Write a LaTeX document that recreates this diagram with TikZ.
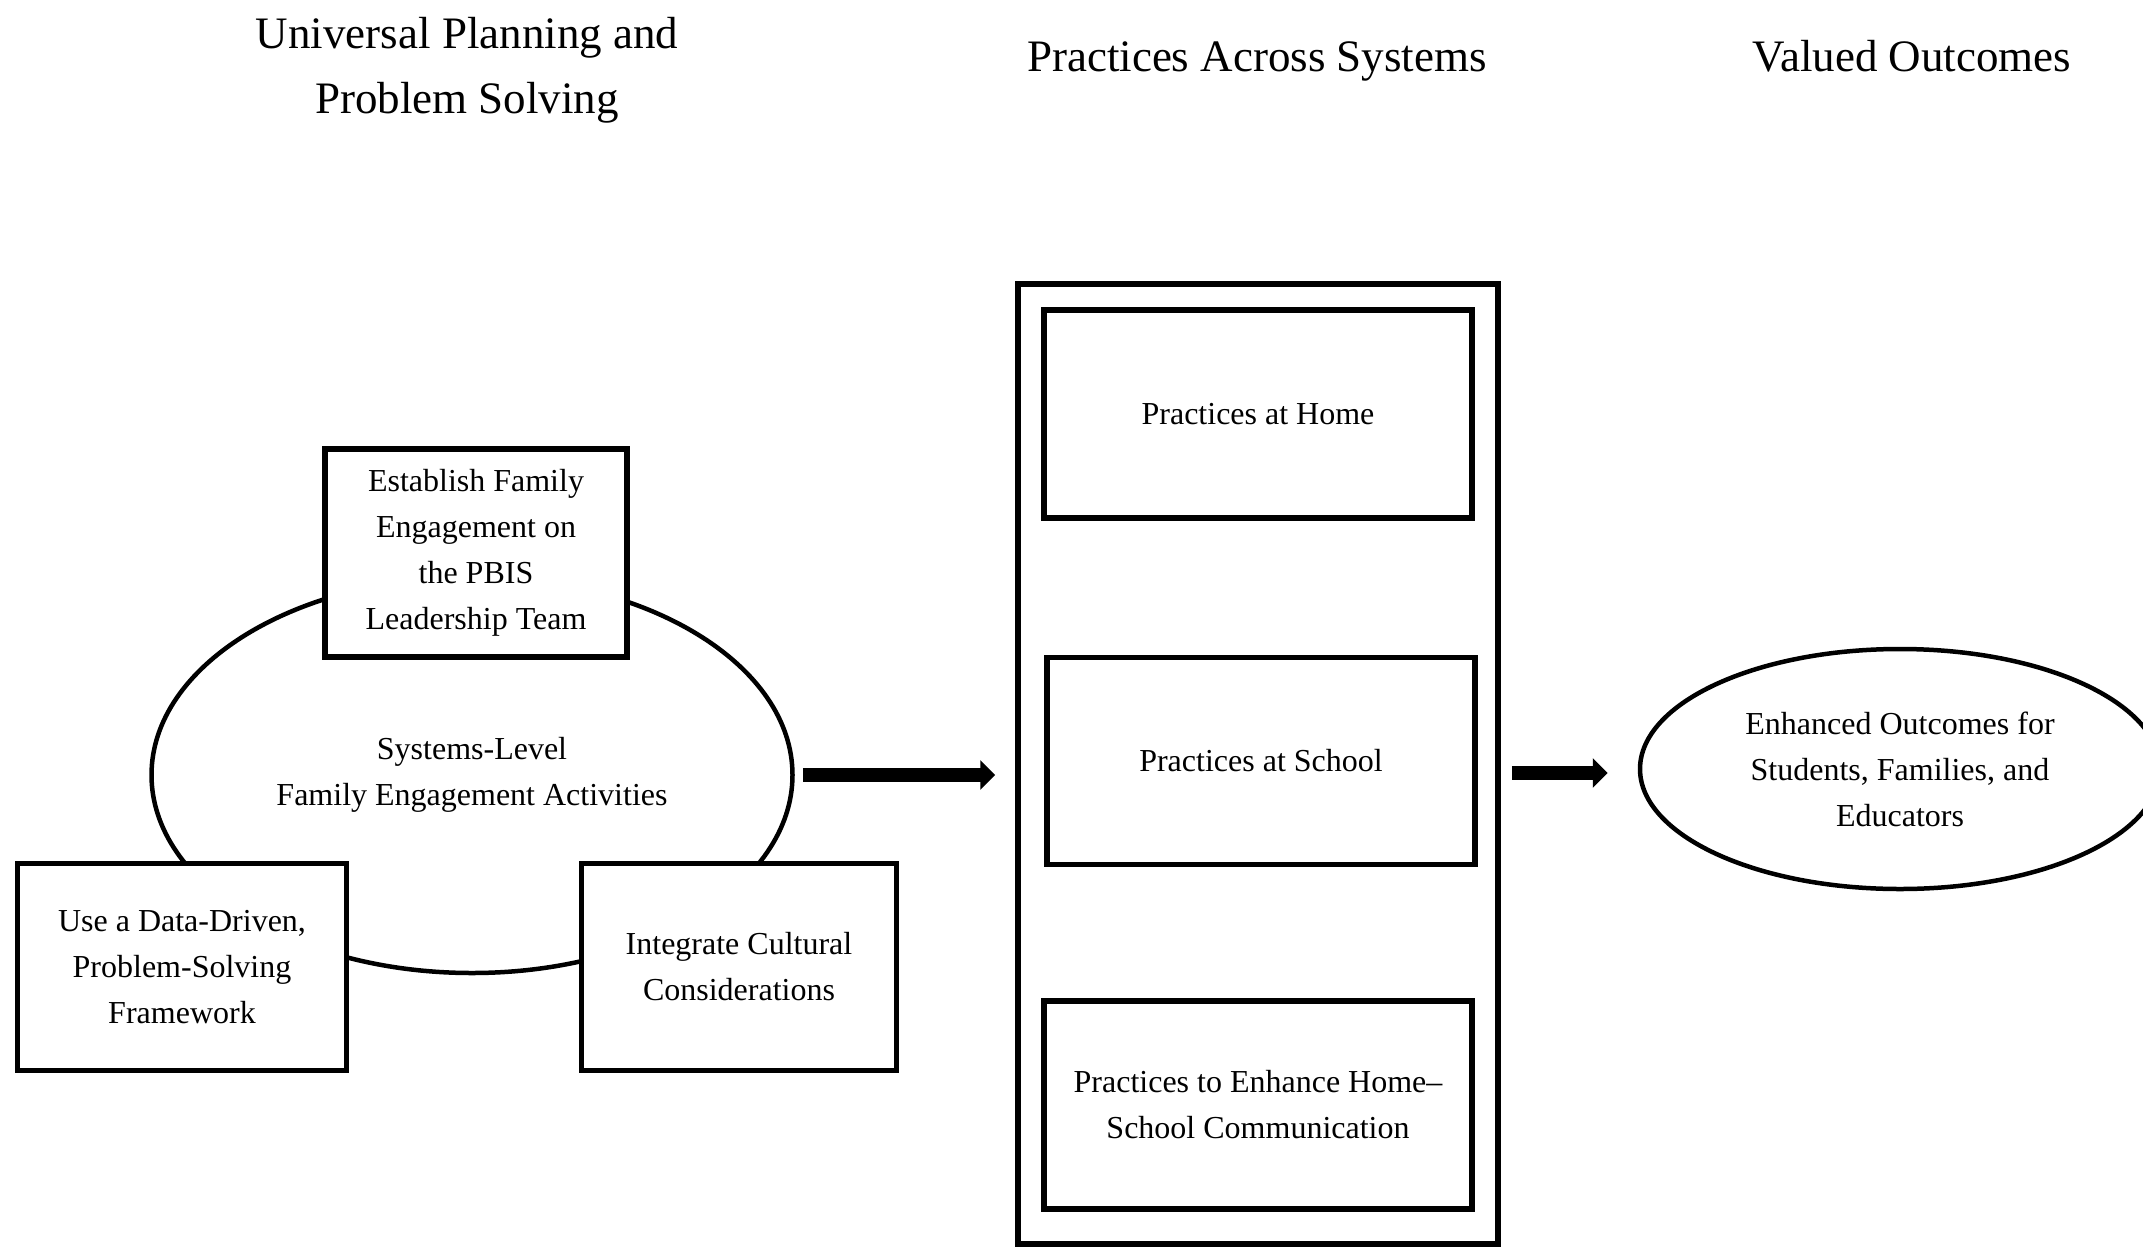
\documentclass[tikz,border=0pt]{standalone}
\usepackage{fontspec}
\setmainfont{Liberation Serif}
\usepackage{tikz}
\usetikzlibrary{arrows.meta, positioning, shapes.geometric}
\newcommand{\bodyfont}{\fontsize{32}{46}\selectfont}
\newcommand{\headfont}{\fontsize{45}{65}\selectfont}

\begin{document}
\begin{tikzpicture}[
      x=1pt, y=-1pt,
      head/.style={font=\headfont, align=center, inner sep=0pt},
      box/.style={draw, line width=5.5pt, fill=white, align=center,
                  font=\bodyfont, inner sep=0pt},
      oval/.style={draw, ellipse, line width=4.5pt, align=center,
                   font=\bodyfont, inner sep=0pt},
      arr/.style={-{Triangle[length=15pt, width=29pt]}, line width=14pt},
    ]
    \useasboundingbox (0,0) rectangle (2143,1247);
    \clip (0,0) rectangle (2143,1247);

    % Column headings
    \node[head] (plantitle) at (467,70)
      {Universal Planning and\\Problem Solving};
    \node[head, anchor=base] (acrosstitle) at (1257,71)
      {Practices Across Systems};
    \node[head, anchor=base] (valuedtitle) at (1912,71)
      {Valued Outcomes};

    % Left — planning oval with its three boxes on top
    \node[oval, minimum width=641pt, minimum height=396pt] (sys) at (472,775)
      {Systems-Level\\Family Engagement Activities};
    \node[box, minimum width=302pt, minimum height=208pt] (engage) at (476,553)
      {Establish Family\\Engagement on\\the PBIS\\Leadership Team};
    \node[box, minimum width=329pt, minimum height=207pt] (datad) at (182,967)
      {Use a Data-Driven,\\Problem-Solving\\Framework};
    \node[box, minimum width=315pt, minimum height=207pt] (cult) at (739,967)
      {Integrate Cultural\\Considerations};

    % Middle — practices across systems
    \node[box, minimum width=480pt, minimum height=960pt] (across) at (1258,764) {};
    \node[box, minimum width=428pt, minimum height=208pt] (homep) at (1258,414)
      {Practices at Home};
    \node[box, minimum width=428pt, minimum height=207pt,
          below=134pt of homep, xshift=3pt] (schoolp)
      {Practices at School};
    \node[box, minimum width=428pt, minimum height=208pt,
          below=131pt of schoolp, xshift=-3pt] (commp)
      {Practices to Enhance Home--\\School Communication};

    % Right — outcomes
    \node[oval, minimum width=520pt, minimum height=240pt] (outcome) at (1900,769)
      {Enhanced Outcomes for\\Students, Families, and\\Educators};

    % Arrows
    \draw[arr, shorten <=8pt, shorten >=20pt] (sys.east) -- (sys.east -| across.west);
    \draw[arr, shorten <=11pt, shorten >=30pt]
      ([yshift=-4pt]outcome.west -| across.east) -- ([yshift=-4pt]outcome.west);
  \end{tikzpicture}
\end{document}
